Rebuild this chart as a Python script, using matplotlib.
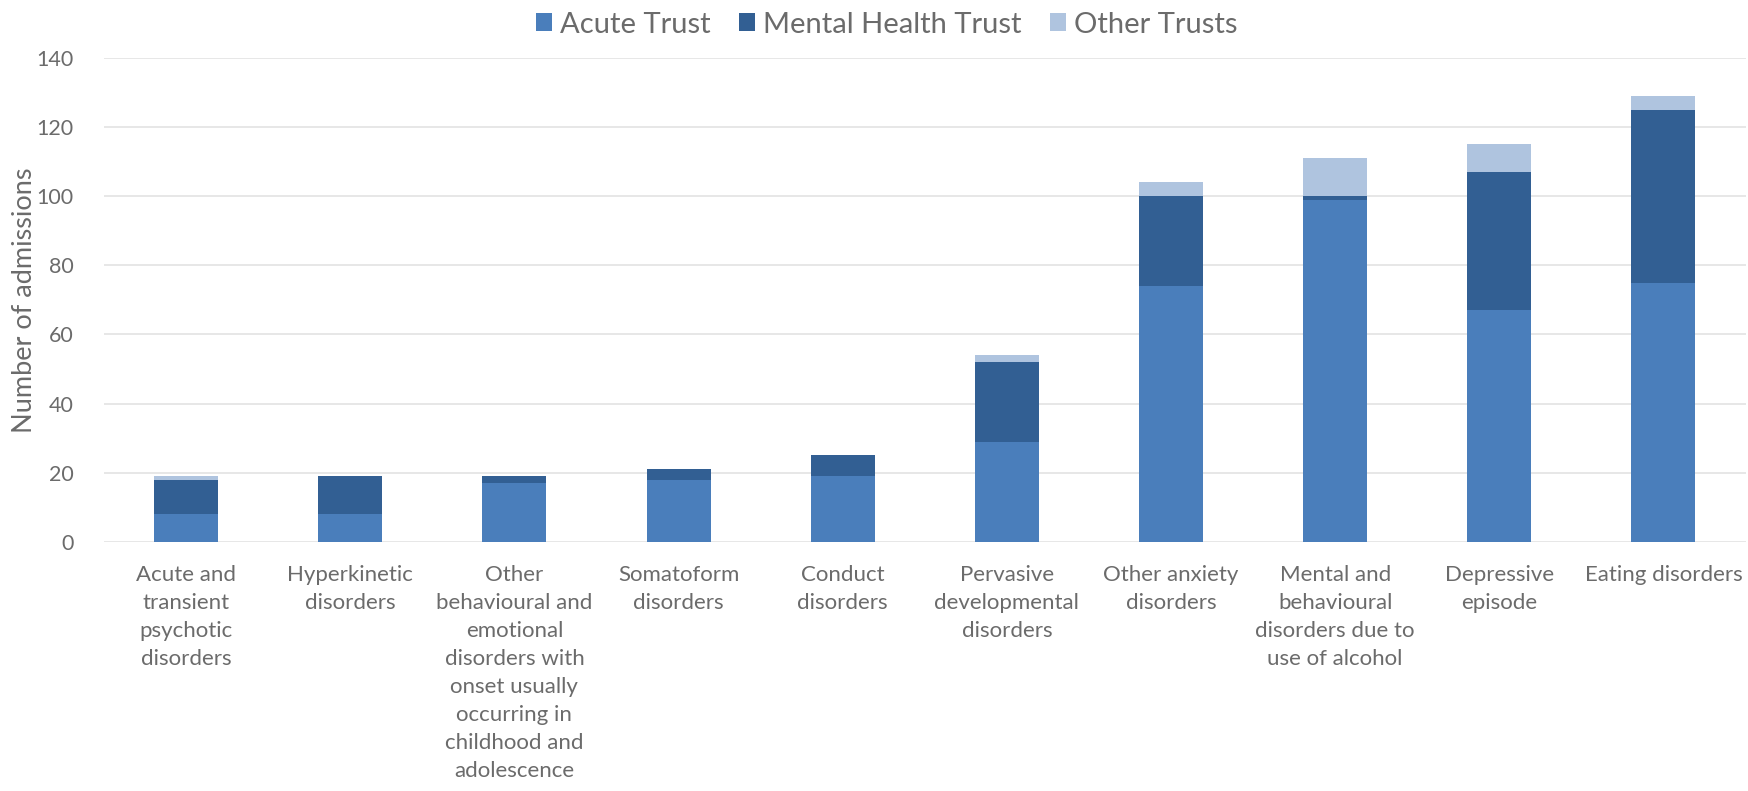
# Stacked bar chart: admissions by diagnosis and trust type

import matplotlib.pyplot as plt
import numpy as np

plt.rcParams['font.family'] = ['Lato', 'DejaVu Sans']

categories = [
    'Acute and\ntransient\npsychotic\ndisorders',
    'Hyperkinetic\ndisorders',
    'Other\nbehavioural and\nemotional\ndisorders with\nonset usually\noccurring in\nchildhood and\nadolescence',
    'Somatoform\ndisorders',
    'Conduct\ndisorders',
    'Pervasive\ndevelopmental\ndisorders',
    'Other anxiety\ndisorders',
    'Mental and\nbehavioural\ndisorders due to\nuse of alcohol',
    'Depressive\nepisode',
    'Eating disorders',
]
acute = [8, 8, 17, 18, 19, 29, 74, 99, 67, 75]
mental_health = [10, 11, 2, 3, 6, 23, 26, 1, 40, 50]
other = [1, 0, 0, 0, 0, 2, 4, 11, 8, 4]
yticks = [0, 20, 40, 60, 80, 100, 120, 140]

c_acute = '#4a7ebb'
c_mh = '#325f93'
c_other = '#afc4df'
txt = '#6b6b6b'

fig = plt.figure(figsize=(17.49, 7.91), dpi=100)
ax = fig.add_axes([0.0595, 0.315, 0.9385, 0.612])

x = np.arange(len(categories))
w = 0.39
acute = np.array(acute)
mental_health = np.array(mental_health)
other = np.array(other)

ax.bar(x, acute, w, color=c_acute, label='Acute Trust', zorder=3)
ax.bar(x, mental_health, w, bottom=acute, color=c_mh,
       label='Mental Health Trust', zorder=3)
ax.bar(x, other, w, bottom=acute + mental_health, color=c_other,
       label='Other Trusts', zorder=3)

ax.set_xlim(-0.5, len(categories) - 0.5)
ax.set_ylim(0, 140)
ax.set_yticks(yticks)
ax.set_xticks(x)
ax.set_xticklabels(categories, fontsize=16, color=txt, linespacing=1.5,
                   va='top')
ax.tick_params(axis='y', length=0, pad=22, labelsize=15.5, labelcolor=txt)
ax.tick_params(axis='x', length=0, pad=17)

for s in ax.spines.values():
    s.set_visible(False)
ax.grid(axis='y', color='#e3e3e3', linewidth=1.2, zorder=0)
ax.set_ylabel('Number of admissions', fontsize=19.5, color=txt)
ax.yaxis.set_label_coords(-0.041, 0.5)

fig.legend(loc='center', bbox_to_anchor=(0.507, 0.969), ncol=3,
           frameon=False, fontsize=21, labelcolor=txt,
           handlelength=0.55, handleheight=0.55, handletextpad=0.25,
           columnspacing=1.0)

fig.savefig('out.png', dpi=100, facecolor='white')
